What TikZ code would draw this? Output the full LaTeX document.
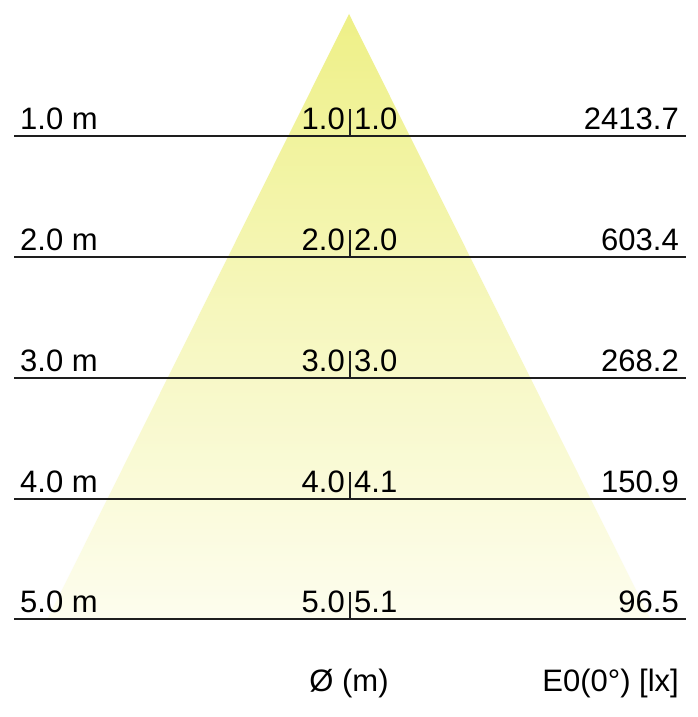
\documentclass[tikz,border=0pt]{standalone}
\usepackage{fontspec}
\setmainfont{Liberation Sans}
\definecolor{beamtop}{RGB}{238,240,135}
\definecolor{beammid}{RGB}{246,247,190}
\definecolor{beambot}{RGB}{253,253,238}
\definecolor{rulecol}{RGB}{30,30,30}
\tikzset{
  lbl/.style={inner sep=0pt, font=\fontsize{31}{31}\selectfont, text=black},
  rulel/.style={draw=rulecol, line width=2pt},
  tickl/.style={draw=rulecol, line width=2pt},
}
\begin{document}
\begin{tikzpicture}[x=1pt,y=1pt]
\useasboundingbox (0,0) rectangle (698,717);
\fill[white] (0,0) rectangle (698,717);
% light cone
\coordinate (apex) at (349,703);
\coordinate (bl) at (47,97);
\coordinate (br) at (651,97);
\shade[top color=beamtop, bottom color=beambot, middle color=beammid] (apex) -- (bl) -- (br) -- cycle;
% distance rows
\foreach \i/\yl/\dist/\dl/\dr/\lux in {1/581/1.0 m/1.0/1.0/2413.7, 2/460/2.0 m/2.0/2.0/603.4, 3/339/3.0 m/3.0/3.0/268.2, 4/218/4.0 m/4.0/4.1/150.9, 5/98/5.0 m/5.0/5.1/96.5}{
  \pgfmathsetmacro{\ytop}{\yl+27}
  \pgfmathsetmacro{\ybase}{\yl+6}
  \coordinate (L\i) at (14,\yl);
  \coordinate (R\i) at (686,\yl);
  \coordinate (T\i) at (350,\yl);
  \coordinate (U\i) at (350,\ytop);
  \draw[rulel] (L\i) -- (R\i);
  \draw[tickl] (T\i) -- (U\i);
  \node[lbl, anchor=base west] (d\i) at (20,\ybase) {\dist};
  \node[lbl, anchor=base east] (a\i) at (345,\ybase) {\dl};
  \node[lbl, anchor=base west] (b\i) at (354,\ybase) {\dr};
  \node[lbl, anchor=base east] (e\i) at (679,\ybase) {\lux};
}
\node[lbl, anchor=base] (diam) at (349,25) {Ø (m)};
\node[lbl, anchor=base east] (illum) at (679,25) {E0(0°) [lx]};
\end{tikzpicture}
\end{document}
